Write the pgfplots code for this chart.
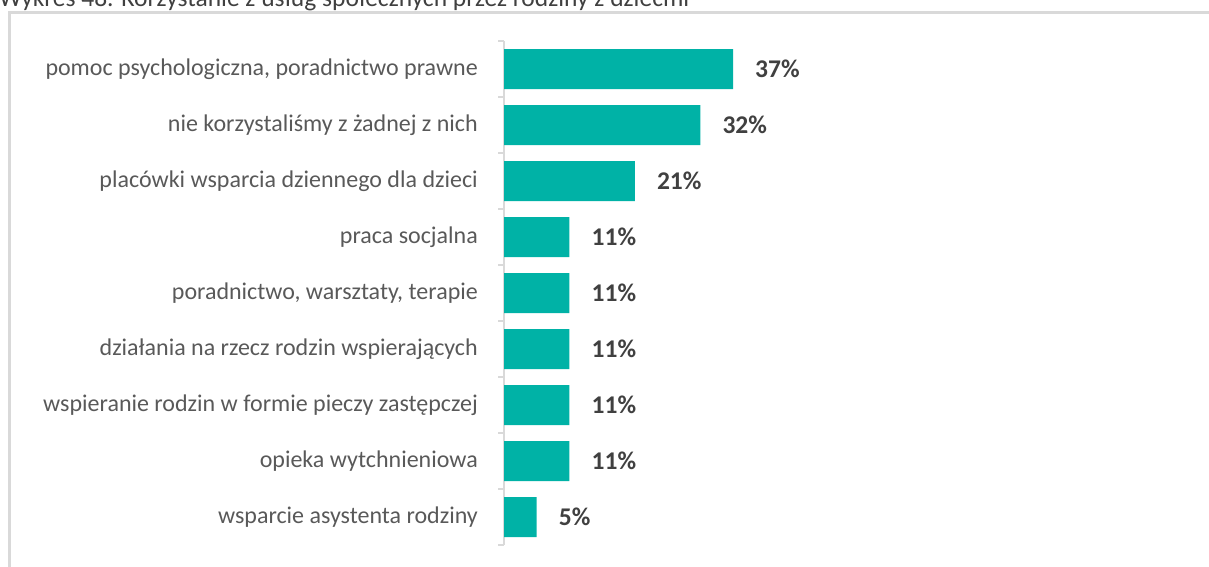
\documentclass[border=0pt]{standalone}
\usepackage{fontspec}
\setmainfont{Carlito}
\usepackage{pgfplots}
\pgfplotsset{compat=1.18}
\definecolor{barteal}{HTML}{00B2A6}
\definecolor{labgray}{HTML}{595959}
\definecolor{valgray}{HTML}{404040}
\definecolor{framegray}{HTML}{D9D9D9}
\begin{document}
\begin{tikzpicture}
\useasboundingbox (0pt,0pt) rectangle (1209pt,566pt);
\clip (0pt,0pt) rectangle (1209pt,566pt);
\draw[framegray, line width=3pt] (9.5pt,-10pt) -- (9.5pt,553pt) -- (1220pt,553pt);
\node[anchor=base west, inner sep=0pt, text=valgray, font=\fontsize{25.5}{30}\selectfont] at (-1pt,559pt) {Wykres 48. Korzystanie z usług społecznych przez rodziny z dziećmi};
\begin{axis}[
  at={(504pt,21pt)}, anchor=south west,
  scale only axis, width=621.6pt, height=504pt,
  xbar, bar width=40pt, bar shift=0pt,
  xmin=0, xmax=100, ymin=-0.5, ymax=8.5, y dir=reverse,
  enlargelimits=false,
  axis x line=none, axis y line=left,
  y axis line style={-, draw=framegray, line width=2pt},
  ytick={0,...,8},
  yticklabels={{pomoc psychologiczna, poradnictwo prawne},{nie korzystaliśmy z żadnej z nich},{placówki wsparcia dziennego dla dzieci},{praca socjalna},{poradnictwo, warsztaty, terapie},{działania na rzecz rodzin wspierających},{wspieranie rodzin w formie pieczy zastępczej},{opieka wytchnieniowa},{wsparcie asystenta rodziny}},
  major tick length=0pt,
  yticklabel style={inner sep=0pt, xshift=-26pt, text=labgray, font=\fontsize{24}{28}\selectfont},
  extra y ticks={-0.5,0.5,1.5,2.5,3.5,4.5,5.5,6.5,7.5,8.5},
  extra y tick labels={},
  extra y tick style={major tick length=6pt, tick align=outside, tick style={draw=framegray, line width=2pt}},
  point meta=explicit symbolic,
  nodes near coords={\pgfplotspointmeta\%},
  every node near coord/.append style={anchor=west, inner sep=0pt, xshift=22pt, text=valgray, font=\fontsize{25.5}{30}\selectfont\bfseries},
]
\addplot[fill=barteal, draw=none] coordinates {
(36.84,0) [37]
(31.58,1) [32]
(21.05,2) [21]
(10.53,3) [11]
(10.53,4) [11]
(10.53,5) [11]
(10.53,6) [11]
(10.53,7) [11]
(5.26,8) [5]
};
\end{axis}
\end{tikzpicture}
\end{document}
